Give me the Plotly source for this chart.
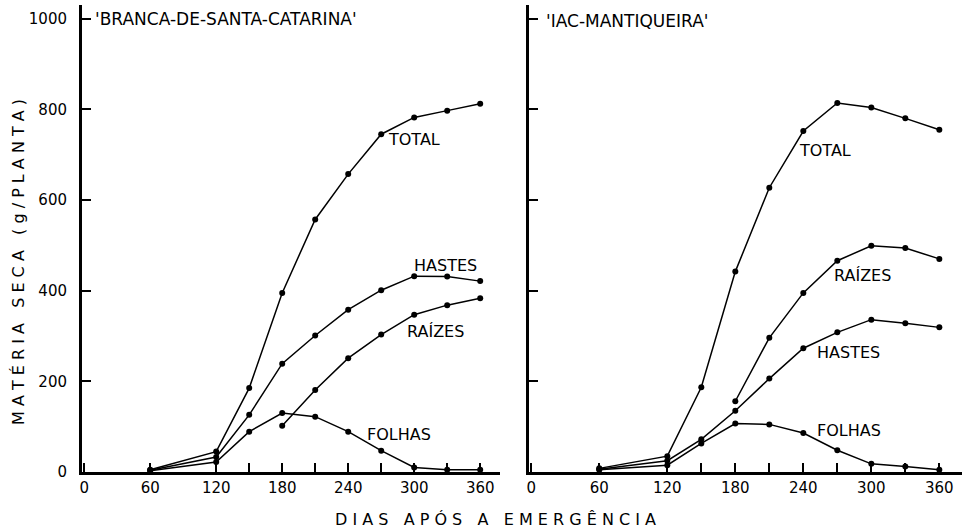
import plotly.graph_objects as go

days = [60, 120, 150, 180, 210, 240, 270, 300, 330, 360]
days_raizes = [180, 210, 240, 270, 300, 330, 360]

# 'BRANCA-DE-SANTA-CATARINA'
b_total = [5, 45, 185, 395, 557, 657, 745, 782, 797, 812]
b_hastes = [4, 33, 126, 239, 301, 358, 401, 432, 431, 421]
b_raizes = [102, 181, 251, 303, 347, 368, 383]
b_folhas = [3, 22, 89, 130, 122, 89, 47, 10, 5, 5]

# 'IAC-MANTIQUEIRA'
m_total = [8, 35, 187, 442, 627, 752, 814, 804, 780, 755]
m_hastes = [6, 25, 72, 135, 206, 273, 308, 336, 328, 319]
m_raizes = [156, 296, 395, 466, 499, 494, 470]
m_folhas = [5, 15, 63, 107, 105, 86, 48, 18, 12, 5]

x_ticks = [0, 60, 120, 180, 240, 300, 360]
y_ticks = [0, 200, 400, 600, 800, 1000]

FONT = "DejaVu Sans"
fig = go.Figure()

def add_series(x, y, xa, ya):
    fig.add_trace(go.Scatter(
        x=x, y=y, xaxis=xa, yaxis=ya, mode="lines+markers",
        line=dict(color="black", width=1.5),
        marker=dict(color="black", size=6),
        cliponaxis=False, showlegend=False, hoverinfo="skip"))

for y in (b_total, b_hastes, b_folhas):
    add_series(days, y, "x", "y")
add_series(days_raizes, b_raizes, "x", "y")
for y in (m_total, m_hastes, m_folhas):
    add_series(days, y, "x2", "y2")
add_series(days_raizes, m_raizes, "x2", "y2")

W, H = 969, 532
T, B = 5, 60
PH = H - T - B

xcommon = dict(
    showline=True, linecolor="black", linewidth=3, mirror=False,
    showgrid=False, zeroline=False, automargin=False,
    tickmode="array", tickvals=x_ticks, ticktext=[str(v) for v in x_ticks],
    ticks="inside", ticklen=9, tickwidth=1.5, tickcolor="black",
    minor=dict(tickvals=[150, 210, 270, 330], ticks="inside", ticklen=9,
               tickwidth=1.5, tickcolor="black"),
    tickfont=dict(family=FONT, size=15, color="black"),
    fixedrange=True,
)
ycommon = dict(
    showline=True, linecolor="black", linewidth=3,
    showgrid=False, zeroline=False, range=[0, 1030], automargin=False,
    tickmode="array", tickvals=y_ticks,
    ticks="inside", ticklen=9, tickwidth=1.5, tickcolor="black",
    tickfont=dict(family=FONT, size=15, color="black"),
    fixedrange=True,
)

fig.update_layout(
    width=W, height=H,
    margin=dict(l=0, r=0, t=T, b=B),
    paper_bgcolor="white", plot_bgcolor="white",
    xaxis=dict(domain=[82 / W, 500 / W], range=[-2, 378], anchor="y", **xcommon),
    yaxis=dict(domain=[0, 1], anchor="x", ticktext=[str(v) for v in y_ticks],
               ticklabelstandoff=9, **ycommon),
    xaxis2=dict(domain=[529 / W, 962 / W], range=[-2, 380], anchor="y2", **xcommon),
    yaxis2=dict(domain=[0, 1], anchor="x2", ticktext=[""] * len(y_ticks), **ycommon),
    font=dict(family=FONT, color="black"),
)

labels = [
    ("x", "y", 274, 733, "TOTAL"),
    ("x", "y", 298, 455, "HASTES"),
    ("x", "y", 292, 309, "RAÍZES"),
    ("x", "y", 255, 82, "FOLHAS"),
    ("x2", "y2", 234, 708, "TOTAL"),
    ("x2", "y2", 265, 433, "RAÍZES"),
    ("x2", "y2", 250, 264, "HASTES"),
    ("x2", "y2", 250, 92, "FOLHAS"),
]
for xr, yr, xv, yv, t in labels:
    fig.add_annotation(xref=xr, yref=yr, x=xv, y=yv, text=t, showarrow=False,
                       xanchor="left", yanchor="middle",
                       font=dict(family=FONT, size=16, color="black"))

fig.add_annotation(xref="x", yref="y", x=8, y=1000, text="'BRANCA-DE-SANTA-CATARINA'",
                   showarrow=False, xanchor="left", yanchor="middle",
                   font=dict(family=FONT, size=17, color="black"))
fig.add_annotation(xref="x2", yref="y2", x=11, y=995, text="'IAC-MANTIQUEIRA'",
                   showarrow=False, xanchor="left", yanchor="middle",
                   font=dict(family=FONT, size=17, color="black"))

def ypaper(py):
    return 1 - (py - T) / PH

fig.add_annotation(xref="paper", yref="paper", x=18 / W, y=ypaper(262),
                   text="M A T É R I A   S E C A   ( g / P L A N T A )",
                   textangle=-90, showarrow=False, xanchor="center", yanchor="middle",
                   font=dict(family=FONT, size=16, color="black"))
fig.add_annotation(xref="paper", yref="paper", x=496 / W, y=ypaper(519),
                   text="D I A S   A P Ó S   A   E M E R G Ê N C I A",
                   showarrow=False, xanchor="center", yanchor="middle",
                   font=dict(family=FONT, size=16, color="black"))

fig.write_html("out.html",
               config={"displayModeBar": False},
               post_script="document.body.style.margin='0px';document.body.style.padding='0px';")
